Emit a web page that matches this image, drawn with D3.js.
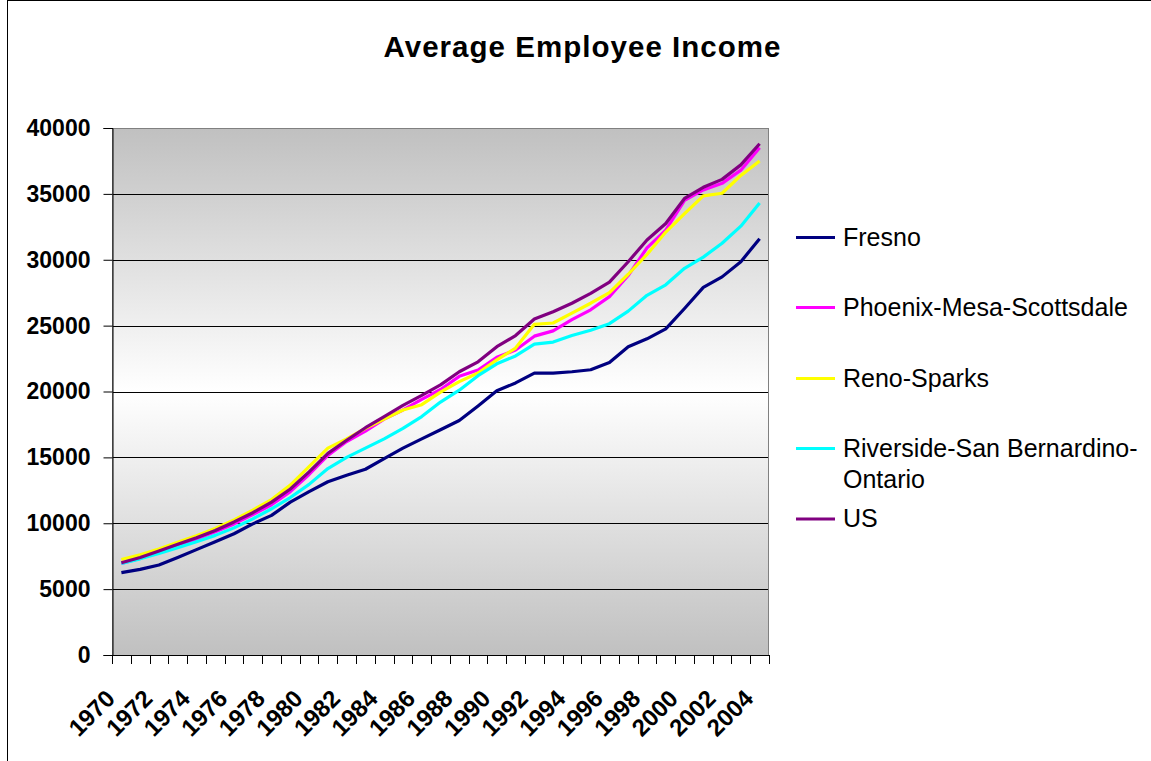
<!DOCTYPE html>
<html>
<head>
<meta charset="utf-8">
<script src="https://cdn.jsdelivr.net/npm/d3@7"></script>
<style>
  html, body { margin: 0; padding: 0; background: #fff; }
  svg { display: block; font-family: "Liberation Sans", Arial, sans-serif; }
</style>
</head>
<body>
<svg id="chart" width="1151" height="761"></svg>
<script>
const years = [1970,1971,1972,1973,1974,1975,1976,1977,1978,1979,1980,1981,1982,1983,1984,1985,1986,1987,1988,1989,1990,1991,1992,1993,1994,1995,1996,1997,1998,1999,2000,2001,2002,2003,2004];
const xTickLabels = [1970,1972,1974,1976,1978,1980,1982,1984,1986,1988,1990,1992,1994,1996,1998,2000,2002,2004];
const yTickValues = [0,5000,10000,15000,20000,25000,30000,35000,40000];

const fresno = [6250,6500,6830,7400,8000,8600,9200,9950,10600,11600,12400,13150,13650,14100,14900,15700,16400,17100,17800,18900,20050,20650,21400,21400,21500,21650,22200,23400,24000,24750,26300,27900,28700,29850,31600];
const phoenix = [6950,7350,7800,8300,8800,9350,9950,10650,11400,12400,13700,15150,16200,17000,17900,18600,19400,20150,21150,21630,22600,23150,24200,24600,25450,26200,27200,28800,30900,32250,34500,35300,35800,36800,38500];
const reno = [7250,7600,8050,8550,9050,9600,10250,11000,11800,12900,14300,15700,16400,17200,17900,18600,19000,19950,20750,21400,22400,23300,25100,25200,25950,26700,27500,28900,30400,32100,33500,34850,35050,36400,37500];
const riverside = [6950,7300,7700,8150,8600,9080,9650,10330,11100,11950,12950,14150,15000,15700,16400,17200,18100,19200,20100,21200,22100,22700,23600,23750,24250,24650,25150,26100,27300,28100,29350,30200,31250,32550,34300];
const us = [7000,7400,7900,8400,8900,9450,10100,10800,11600,12600,13900,15300,16300,17250,18100,18950,19700,20500,21500,22250,23400,24250,25500,26050,26700,27450,28300,29850,31500,32750,34650,35500,36100,37200,38800];

const seriesNames = ["Fresno","Phoenix-Mesa-Scottsdale","Reno-Sparks","Riverside-San Bernardino-Ontario","US"];
const seriesValues = [fresno, phoenix, reno, riverside, us];
const seriesColors = ["#000080","#ff00ff","#ffff00","#00ffff","#800080"];

const svg = d3.select("#chart");
const plot = {left: 112, right: 769, top: 128, bottom: 655};

// outer border
svg.append("rect").attr("x",7.5).attr("y",0.5).attr("width",1160).attr("height",800)
  .attr("fill","none").attr("stroke","#000").attr("stroke-width",1);

// gradient
const defs = svg.append("defs");
const grad = defs.append("linearGradient").attr("id","bg").attr("x1",0).attr("y1",0).attr("x2",0).attr("y2",1);
grad.append("stop").attr("offset","0%").attr("stop-color","#c0c0c0");
grad.append("stop").attr("offset","50%").attr("stop-color","#ffffff");
grad.append("stop").attr("offset","100%").attr("stop-color","#c0c0c0");

const x = d3.scaleBand().domain(years).range([plot.left, plot.right]).paddingInner(0).paddingOuter(0);
const y = d3.scaleLinear().domain([0,40000]).range([plot.bottom, plot.top]);
const cx = d => x(d) + x.bandwidth()/2;

svg.append("rect").attr("x",plot.left).attr("y",plot.top)
  .attr("width",plot.right-plot.left).attr("height",plot.bottom-plot.top)
  .attr("fill","url(#bg)");

// gridlines
svg.append("g").selectAll("line").data(yTickValues.filter(v => v > 0 && v < 40000)).join("line")
  .attr("x1",plot.left).attr("x2",plot.right)
  .attr("y1",d => Math.round(y(d))+0.5).attr("y2",d => Math.round(y(d))+0.5)
  .attr("stroke","#000").attr("stroke-width",1);

// plot border
svg.append("rect").attr("x",plot.left+0.5).attr("y",plot.top+0.5)
  .attr("width",plot.right-plot.left-1).attr("height",plot.bottom-plot.top)
  .attr("fill","none").attr("stroke","#808080").attr("stroke-width",1);

// y axis
const yAxis = svg.append("g").attr("transform",`translate(${plot.left+0.5},0)`)
  .call(d3.axisLeft(y).tickValues(yTickValues).tickSize(9).tickPadding(13).tickFormat(d3.format("d")));
yAxis.select(".domain").attr("stroke","#000");
yAxis.selectAll(".tick line").attr("stroke","#000");
yAxis.selectAll(".tick text").attr("font-size","23px").attr("font-weight","bold")
  .attr("fill","#000").attr("font-family","'Liberation Sans', Arial, sans-serif");

// x axis line and ticks at boundaries
const boundaries = years.map(d => x(d)).concat([plot.right]);
svg.append("line").attr("x1",plot.left).attr("x2",plot.right)
  .attr("y1",plot.bottom+0.5).attr("y2",plot.bottom+0.5).attr("stroke","#000");
svg.append("g").selectAll("line").data(boundaries).join("line")
  .attr("x1",d => Math.round(d)+0.5).attr("x2",d => Math.round(d)+0.5)
  .attr("y1",plot.bottom).attr("y2",plot.bottom+9).attr("stroke","#000");

svg.append("g").selectAll("text").data(xTickLabels).join("text")
  .attr("transform",d => `translate(${cx(d)-5},${plot.bottom+45}) rotate(-45)`)
  .attr("text-anchor","end")
  .attr("font-size","24px").attr("font-weight","bold").attr("fill","#000")
  .text(d => d);

// lines
const line = d3.line().x((d,i) => cx(years[i])).y(d => y(d));
svg.append("g").selectAll("path").data(seriesValues).join("path")
  .attr("d", d => line(d))
  .attr("fill","none")
  .attr("stroke",(d,i) => seriesColors[i])
  .attr("stroke-width",3.2)
  .attr("stroke-linejoin","round");

// title
svg.append("text").attr("x",582).attr("y",57).attr("text-anchor","middle")
  .attr("font-size","29.5px").attr("font-weight","bold").attr("fill","#000")
  .attr("textLength",397).attr("lengthAdjust","spacing")
  .text("Average Employee Income");

// legend
const legendY = [237.5, 307.5, 378.5, 448.5, 519];
const lg = svg.append("g");
seriesNames.forEach((name,i) => {
  lg.append("line").attr("x1",796).attr("x2",835)
    .attr("y1",legendY[i]).attr("y2",legendY[i])
    .attr("stroke",seriesColors[i]).attr("stroke-width",3);
  const t = lg.append("text").attr("x",843).attr("y",legendY[i]+8)
    .attr("font-size","25px").attr("fill","#000");
  if (name === "Riverside-San Bernardino-Ontario") {
    t.append("tspan").attr("x",843).text("Riverside-San Bernardino-");
    t.append("tspan").attr("x",843).attr("dy",31.5).text("Ontario");
  } else {
    t.text(name);
  }
});
</script>
</body>
</html>
